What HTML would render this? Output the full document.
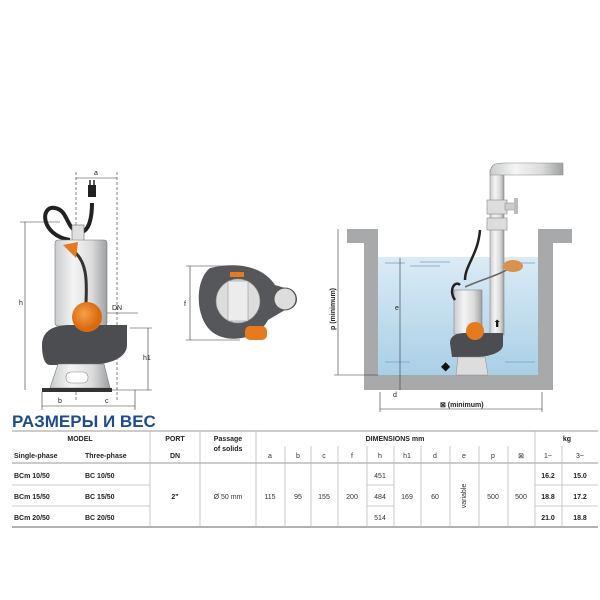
<!DOCTYPE html>
<html><head><meta charset="utf-8"><style>
body{margin:0;width:600px;height:600px;background:#fff;overflow:hidden;font-family:"Liberation Sans",sans-serif}
svg{position:absolute;left:0;top:0}
</style></head><body>
<svg width="600" height="600" viewBox="0 0 600 600" font-family="Liberation Sans, sans-serif">
<defs>
<linearGradient id="st" x1="0" x2="1"><stop offset="0" stop-color="#c9cbcd"/><stop offset=".35" stop-color="#f4f4f4"/><stop offset=".7" stop-color="#dcdcdc"/><stop offset="1" stop-color="#9ea0a2"/></linearGradient>
<linearGradient id="wt" x1="0" y1="0" x2="0" y2="1"><stop offset="0" stop-color="#dbebf5"/><stop offset="1" stop-color="#a9cfe6"/></linearGradient>
<radialGradient id="or" cx=".4" cy=".4"><stop offset="0" stop-color="#f7a04a"/><stop offset="1" stop-color="#d96a10"/></radialGradient>
</defs>
<g stroke="#333" stroke-width=".6" fill="none">
<line x1="76" y1="178" x2="117" y2="178"/><text x="96" y="175" font-size="7" fill="#222" stroke="none" text-anchor="middle">a</text>
<line x1="76" y1="172" x2="76" y2="400" stroke-dasharray="3,2"/><line x1="117" y1="172" x2="117" y2="400" stroke-dasharray="3,2"/>
<line x1="25" y1="222" x2="25" y2="390"/><line x1="20" y1="222" x2="60" y2="222"/><text x="19" y="305" font-size="7" fill="#222" stroke="none">h</text>
<line x1="148" y1="328" x2="148" y2="390"/><line x1="130" y1="328" x2="152" y2="328"/><line x1="112" y1="390" x2="152" y2="390"/><text x="143" y="360" font-size="7" fill="#222" stroke="none">h1</text>
<line x1="102" y1="313" x2="138" y2="313"/><text x="112" y="310" font-size="7" fill="#222" stroke="none">DN</text>
<line x1="42" y1="392" x2="42" y2="410"/><line x1="135" y1="390" x2="135" y2="410"/>
<line x1="42" y1="406" x2="135" y2="406"/><text x="58" y="403" font-size="7" fill="#222" stroke="none">b</text><text x="105" y="403" font-size="7" fill="#222" stroke="none">c</text>
</g>
<path d="M70 240 C40 235 40 205 55 208 C68 210 66 228 78 232 C90 234 92 215 92 203" stroke="#222" stroke-width="4" fill="none"/>
<rect x="88" y="185" width="8" height="12" fill="#222"/><line x1="90" y1="180" x2="90" y2="186" stroke="#222" stroke-width="1.5"/><line x1="94" y1="180" x2="94" y2="186" stroke="#222" stroke-width="1.5"/>
<rect x="72" y="225" width="12" height="16" fill="#e0e0e0" stroke="#666" stroke-width=".6"/>
<rect x="55" y="240" width="52" height="86" rx="3" fill="url(#st)" stroke="#777" stroke-width=".6"/>
<path d="M42 345 C42 330 55 325 70 325 L127 325 L127 345 C127 358 110 365 85 365 L50 365 C44 365 42 355 42 345Z" fill="#4b4d50"/>
<path d="M58 364 L104 364 L110 388 L50 388Z" fill="url(#st)" stroke="#777" stroke-width=".6"/>
<rect x="42" y="388" width="70" height="4" fill="#333"/>
<rect x="66" y="372" width="22" height="11" rx="5" fill="#fff" stroke="#888" stroke-width=".6"/>
<path d="M72 250 C90 262 86 290 86 305" stroke="#333" stroke-width="3" fill="none"/>
<path d="M63 245 L78 242 L76 258 Z" fill="#e57a1f"/>
<circle cx="87" cy="317" r="15" fill="url(#or)"/>
<g stroke="#333" stroke-width=".6"><line x1="190" y1="266" x2="190" y2="340"/><line x1="186" y1="266" x2="240" y2="266"/><line x1="186" y1="340" x2="240" y2="340"/></g>
<text x="184" y="306" font-size="7" fill="#222">f</text>
<path d="M210 268 C235 262 262 265 275 285 L285 288 C300 287 302 310 285 310 L268 320 C258 340 225 345 210 330 C195 315 195 280 210 268Z" fill="#55575a"/>
<circle cx="285" cy="299" r="11" fill="#ddd" stroke="#555"/>
<circle cx="238" cy="301" r="22" fill="#dcdcdc" stroke="#888" stroke-width=".6"/>
<rect x="228" y="281" width="20" height="40" fill="#ececec" stroke="#888" stroke-width=".5"/>
<rect x="245" y="326" width="22" height="14" rx="5" fill="#e57a1f"/>
<rect x="230" y="272" width="14" height="5" fill="#e57a1f"/>
<rect x="378" y="257" width="160" height="118" fill="url(#wt)"/>
<path d="M347 229 L378 229 L378 375 L538 375 L538 229 L572 229 L572 243 L553 243 L553 390 L364 390 L364 243 L347 243Z" fill="#a8a9aa"/>
<g stroke="#6fa0c0" stroke-width=".8"><line x1="385" y1="263" x2="405" y2="263"/><line x1="420" y1="262" x2="450" y2="262"/><line x1="510" y1="263" x2="535" y2="263"/><line x1="385" y1="362" x2="410" y2="362"/><line x1="505" y1="362" x2="535" y2="362"/><line x1="410" y1="266" x2="440" y2="266"/></g>
<rect x="490" y="170" width="14" height="165" fill="url(#st)" stroke="#888" stroke-width=".6"/>
<path d="M490 175 C490 163 496 163 505 163 L563 163 L563 175 L505 175 Z" fill="url(#st)" stroke="#888" stroke-width=".6"/>
<rect x="487" y="200" width="20" height="14" fill="#ddd" stroke="#888" stroke-width=".6"/>
<rect x="505" y="203" width="10" height="7" fill="#ccc" stroke="#888" stroke-width=".5"/><rect x="514" y="198" width="4" height="16" fill="#bbb"/>
<rect x="487" y="218" width="20" height="12" fill="#ddd" stroke="#888" stroke-width=".6"/>
<rect x="454" y="290" width="28" height="44" fill="url(#st)" stroke="#777" stroke-width=".5"/>
<path d="M450 343 C450 335 458 333 465 333 L503 333 L503 345 C503 352 490 357 475 357 L452 357Z" fill="#4b4d50"/>
<path d="M458 357 L485 357 L488 375 L456 375Z" fill="#ddd" stroke="#888" stroke-width=".5"/>
<circle cx="475" cy="331" r="9" fill="#e57a1f"/>
<path d="M455 300 C448 290 455 280 460 285 M465 280 C465 265 478 255 480 230" stroke="#222" stroke-width="2.5" fill="none"/>
<path d="M465 287 C480 280 500 275 510 268" stroke="#666" stroke-width="1.5" fill="none"/>
<ellipse cx="513" cy="266" rx="10" ry="6" fill="#d9924e"/>
<text x="441" y="370" font-size="12" fill="#111">◆</text><text x="493" y="327" font-size="10" fill="#111">⬆</text>
<g stroke="#333" stroke-width=".6"><line x1="338" y1="229" x2="338" y2="375"/><line x1="334" y1="375" x2="378" y2="375"/><line x1="400" y1="258" x2="400" y2="390"/><line x1="380" y1="392" x2="380" y2="412"/><line x1="542" y1="392" x2="542" y2="412"/><line x1="380" y1="409" x2="542" y2="409"/></g>
<text x="335" y="330" font-size="7" font-weight="bold" fill="#222" transform="rotate(-90 335 330)">p (minimum)</text>
<text x="395" y="310" font-size="7" fill="#222">e</text><text x="393" y="397" font-size="7" fill="#222">d</text>
<text x="440" y="407" font-size="7" font-weight="bold" fill="#222">⊠ (minimum)</text>
<text x="12" y="427" font-size="17" font-weight="bold" fill="#1f4c8c">РАЗМЕРЫ И ВЕС</text>
<g stroke="#999" stroke-width="1"><line x1="12" y1="431" x2="598" y2="431"/><line x1="12" y1="527" x2="598" y2="527" stroke-width="1.5"/><line x1="12" y1="463" x2="598" y2="463"/></g>
<g stroke="#bbb" stroke-width=".8">
<line x1="150" y1="431" x2="150" y2="527"/><line x1="200" y1="431" x2="200" y2="527"/><line x1="256" y1="431" x2="256" y2="527"/><line x1="535" y1="431" x2="535" y2="527"/>
<line x1="285" y1="446" x2="285" y2="527"/><line x1="311" y1="446" x2="311" y2="527"/><line x1="338" y1="446" x2="338" y2="527"/><line x1="367" y1="446" x2="367" y2="527"/><line x1="394" y1="446" x2="394" y2="527"/><line x1="421" y1="446" x2="421" y2="527"/><line x1="450" y1="446" x2="450" y2="527"/><line x1="479" y1="446" x2="479" y2="527"/><line x1="508" y1="446" x2="508" y2="527"/><line x1="562" y1="446" x2="562" y2="527"/>
<line x1="12" y1="485" x2="150" y2="485"/><line x1="12" y1="506" x2="150" y2="506"/><line x1="367" y1="485" x2="394" y2="485"/><line x1="367" y1="506" x2="394" y2="506"/><line x1="535" y1="485" x2="598" y2="485"/><line x1="535" y1="506" x2="598" y2="506"/>
</g>
<g font-size="7" font-weight="bold" fill="#222">
<text x="80" y="441" text-anchor="middle">MODEL</text><text x="14" y="458">Single-phase</text><text x="85" y="458">Three-phase</text>
<text x="175" y="441" text-anchor="middle">PORT</text><text x="175" y="458" text-anchor="middle">DN</text>
<text x="228" y="441" text-anchor="middle">Passage</text><text x="228" y="451" text-anchor="middle">of solids</text>
<text x="395" y="441" text-anchor="middle">DIMENSIONS mm</text><text x="567" y="441" text-anchor="middle">kg</text>
<text x="14" y="478">BCm 10/50</text><text x="85" y="478">BC 10/50</text>
<text x="14" y="499">BCm 15/50</text><text x="85" y="499">BC 15/50</text>
<text x="14" y="520">BCm 20/50</text><text x="85" y="520">BC 20/50</text>
<text x="175" y="499" text-anchor="middle">2"</text>
<text x="548" y="478" text-anchor="middle">16.2</text><text x="580" y="478" text-anchor="middle">15.0</text>
<text x="548" y="499" text-anchor="middle">18.8</text><text x="580" y="499" text-anchor="middle">17.2</text>
<text x="548" y="520" text-anchor="middle">21.0</text><text x="580" y="520" text-anchor="middle">18.8</text>
</g>
<g font-size="7" fill="#333" text-anchor="middle">
<text x="270" y="458">a</text><text x="298" y="458">b</text><text x="324" y="458">c</text><text x="352" y="458">f</text><text x="380" y="458">h</text><text x="407" y="458">h1</text><text x="435" y="458">d</text><text x="464" y="458">e</text><text x="493" y="458">p</text><text x="521" y="458">⊠</text><text x="548" y="458">1~</text><text x="580" y="458">3~</text>
<text x="228" y="499">Ø 50 mm</text><text x="270" y="499">115</text><text x="298" y="499">95</text><text x="324" y="499">155</text><text x="352" y="499">200</text>
<text x="380" y="478">451</text><text x="380" y="499">484</text><text x="380" y="520">514</text><text x="407" y="499">169</text><text x="435" y="499">60</text>
<text x="493" y="499">500</text><text x="521" y="499">500</text>
<text x="466" y="496" transform="rotate(-90 466 496)">variable</text>
</g>
</svg>
</body></html>
